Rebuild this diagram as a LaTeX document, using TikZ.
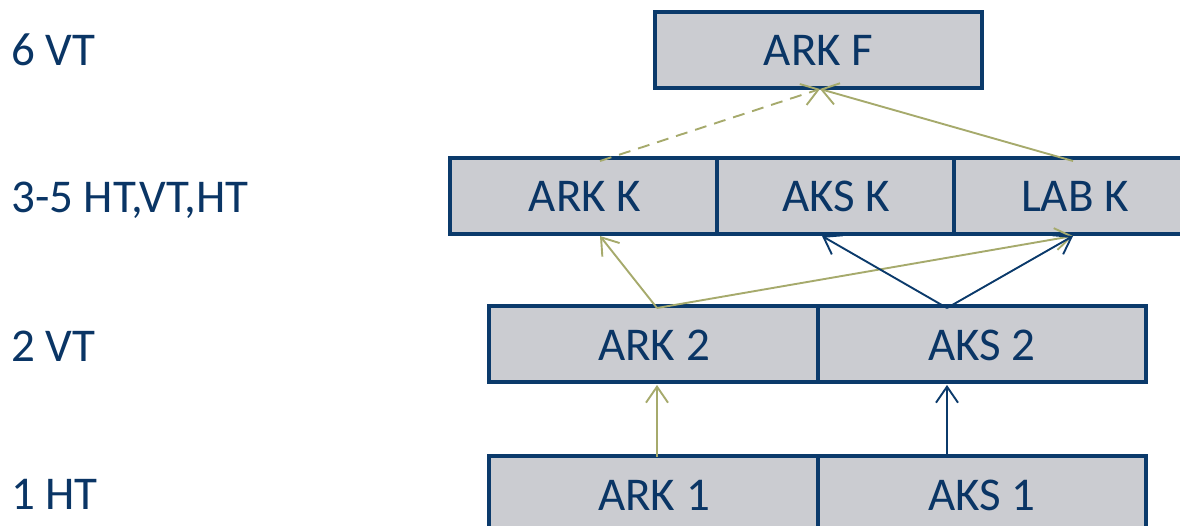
\documentclass[tikz,border=0pt]{standalone}
\usepackage{fontspec}
\setmainfont{Carlito}
\usetikzlibrary{arrows.meta}
\definecolor{navy}{HTML}{0B3A6B}
\definecolor{txt}{HTML}{0A3565}
\definecolor{olive}{HTML}{A6AA6C}
\definecolor{boxfill}{HTML}{CBCCD1}
\tikzset{
  cell/.style={draw=navy, fill=boxfill, line width=3.2pt},
  lbl/.style={anchor=base west, inner sep=0pt, text=txt, font=\fontsize{47}{47}\selectfont},
  btxt/.style={anchor=base, inner sep=0pt, text=txt, font=\fontsize{47}{47}\selectfont},
  garrow/.style={draw=olive, line width=1.9pt, -{Straight Barb[length=16pt,width=22pt,line width=1.9pt]}},
  barrow/.style={draw=navy, line width=1.9pt, -{Straight Barb[length=16pt,width=22pt,line width=1.9pt]}},
  gdash/.style={garrow, dash pattern=on 12pt off 8pt}
}
\begin{document}
\begin{tikzpicture}[x=1pt,y=-1pt]
\useasboundingbox (0,0) rectangle (1180,526);
\clip (0,0) rectangle (1180,526);
% boxes
\draw[cell] (655,12) rectangle (982,88);
\draw[cell] (450,158) rectangle (717,234);
\draw[cell] (717,158) rectangle (954,234);
\draw[cell] (954,158) rectangle (1200,234);
\draw[cell] (489,306) rectangle (818,382);
\draw[cell] (818,306) rectangle (1146,382);
\draw[cell] (489,456) rectangle (818,540);
\draw[cell] (818,456) rectangle (1146,540);
% texts
\node[btxt] (tF) at (818.5,66) {ARK F};
\node[btxt] (tAK) at (585,212) {ARK K};
\node[btxt] (tSK) at (836,212) {AKS K};
\node[btxt] (tLK) at (1075,212) {LAB K};
\node[btxt] (tA2) at (654,360) {ARK 2};
\node[btxt] (tS2) at (982,360) {AKS 2};
\node[btxt] (tA1) at (654,510) {ARK 1};
\node[btxt] (tS1) at (982,510) {AKS 1};
% row labels
\node[lbl] (l6) at (11,66) {6 VT};
\node[lbl] (l35) at (11,213) {3-5 HT,VT,HT};
\node[lbl] (l2) at (11,361) {2 VT};
\node[lbl] (l1) at (11,509) {1 HT};
% anchor points
\coordinate (fB) at (820,89);
\coordinate (akT) at (600,161);
\coordinate (lkT) at (1073,161);
\coordinate (akB) at (600,236);
\coordinate (skB) at (822,236);
\coordinate (lkB) at (1073,236);
\coordinate (a2T) at (657,308);
\coordinate (s2T) at (947,308);
\coordinate (a2B) at (657,385);
\coordinate (s2B) at (947,385);
\coordinate (a1T) at (657,457);
\coordinate (s1T) at (947,457);
% connectors
\draw[gdash] (akT) -- (fB);
\draw[garrow] (lkT) -- (fB);
\draw[garrow] (a2T) -- (akB);
\draw[garrow] (a2T) -- (lkB);
\draw[barrow] (s2T) -- (skB);
\draw[barrow] (s2T) -- (lkB);
\draw[garrow] (a1T) -- (a2B);
\draw[barrow] (s1T) -- (s2B);
\end{tikzpicture}
\end{document}
